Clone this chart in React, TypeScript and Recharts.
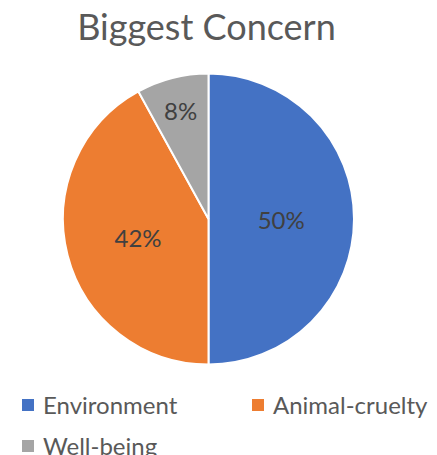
// Biggest Concern — pie chart recreated with Recharts
import { PieChart, Pie, Cell, Legend } from 'recharts'

const categories = ['Environment', 'Animal-cruelty', 'Well-being']
const shares = [50, 42, 8]
const colors = ['#4472C4', '#ED7D31', '#A5A5A5']

const data = categories.map((name, i) => ({ name, value: shares[i] }))

const RADIAN = Math.PI / 180
const FONT = 'Lato, "Open Sans", sans-serif'

// Labels in the middle of each slice; the thin slice gets pushed outward
function renderLabel(props: any) {
  const { cx, cy, midAngle, outerRadius, percent } = props
  const r = outerRadius * (percent < 0.1 ? 0.77 : 0.5)
  const x = cx + r * Math.cos(-midAngle * RADIAN)
  const y = cy + r * Math.sin(-midAngle * RADIAN)
  return (
    <text x={x} y={y} fill="#404040" fontSize={24} fontFamily={FONT} textAnchor="middle" dominantBaseline="central">
      {`${Math.round(percent * 100)}%`}
    </text>
  )
}

// Legend keeps the data order (Recharts would sort it by name)
function renderLegend(props: any) {
  const items = [...props.payload].sort(
    (a: any, b: any) => categories.indexOf(a.value) - categories.indexOf(b.value)
  )
  return (
    <div style={{ display: 'grid', gridTemplateColumns: '230px 180px', rowGap: 12, paddingLeft: 22, fontFamily: FONT }}>
      {items.map((p: any) => (
        <div key={p.value} style={{ display: 'flex', alignItems: 'center', height: 29 }}>
          <span style={{ width: 12, height: 12, background: p.color, marginRight: 9, display: 'inline-block' }} />
          <span style={{ fontSize: 24, color: '#595959' }}>{p.value}</span>
        </div>
      ))}
    </div>
  )
}

export default function App() {
  return (
    <div style={{ position: 'relative', width: 437, height: 455, background: '#fff' }}>
      <style>{'body{margin:0}'}</style>
      <div style={{ position: 'absolute', top: 5, left: 0, width: 413, textAlign: 'center', fontFamily: FONT, fontSize: 36, color: '#595959', lineHeight: 1.2 }}>
        Biggest Concern
      </div>
      <PieChart width={437} height={455} margin={{ top: 0, right: 0, bottom: 0, left: 0 }}>
        <Pie
          data={data}
          dataKey="value"
          nameKey="name"
          cx={208.5}
          cy={219}
          outerRadius={145.5}
          startAngle={90}
          endAngle={-270}
          stroke="#fff"
          strokeWidth={2}
          labelLine={false}
          label={renderLabel}
          isAnimationActive={false}
        >
          {data.map((d, i) => (
            <Cell key={d.name} fill={colors[i]} />
          ))}
        </Pie>
        <Legend
          content={renderLegend}
          wrapperStyle={{ position: 'absolute', top: 390, left: 0, width: 437 }}
        />
      </PieChart>
    </div>
  )
}
